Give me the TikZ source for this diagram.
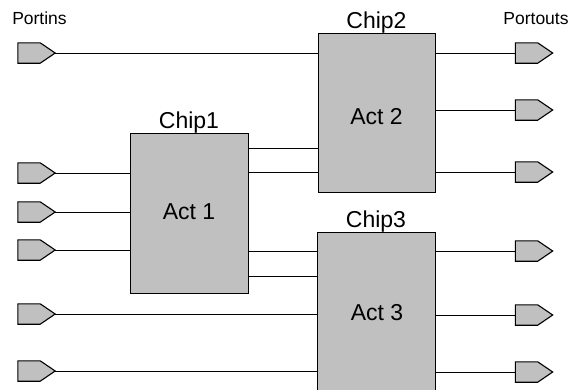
\documentclass[tikz,border=0pt]{standalone}
\usepackage{fontspec}
\setmainfont{Liberation Sans}
\definecolor{chipgray}{HTML}{C0C0C0}
\begin{document}
\begin{tikzpicture}[x=1pt,y=-1pt,
  wire/.style={draw=black,line width=1pt},
  portnode/.style={inner sep=0pt,minimum width=37pt,minimum height=20pt},
  portshape/.style={draw=black,fill=chipgray,line width=1.1pt,line join=miter},
  chip/.style={draw=black,fill=chipgray,line width=1pt,inner sep=0pt},
  chiplabel/.style={inner sep=0pt,anchor=base,font=\fontsize{23}{26}\selectfont},
  titlelabel/.style={inner sep=0pt,anchor=base,font=\fontsize{17.5}{20}\selectfont}]
\useasboundingbox (0,0) rectangle (574,389);
\clip (0,0) rectangle (574,389);
% chips
\node[chip,minimum width=118pt,minimum height=160pt] (chip1) at (189,213) {};
\node[chip,minimum width=117pt,minimum height=159pt] (chip2) at (376.5,112.5) {};
\node[chip,minimum width=118pt,minimum height=162pt] (chip3) at (376,313) {};
\node[chiplabel] (a1) at (189,219) {Act 1};
\node[chiplabel] (a2) at (376.5,124) {Act 2};
\node[chiplabel] (a3) at (377,320) {Act 3};
\node[chiplabel] (l1) at (189,128) {Chip1};
\node[chiplabel] (l2) at (376.5,28) {Chip2};
\node[chiplabel] (l3) at (376,227) {Chip3};
\node[titlelabel] (tin) at (39.5,24) {Portins};
\node[titlelabel] (tout) at (536,24) {Portouts};
% ports
\foreach \n/\x/\y in {pi1/36.5/53, pi2/36.5/173, pi3/36.5/212, pi4/36.5/250, pi5/36.5/314, pi6/36.5/371,
                      po1/534/53, po2/534/110, po3/534/172, po4/534/251, po5/534/315, po6/534/372}{
  \node[portnode] (\n) at (\x,\y) {};
  \draw[portshape] (\n.south west) -- (\n.north west) -- ([xshift=-15pt]\n.north east)
     -- (\n.east) -- ([xshift=-15pt]\n.south east) -- cycle;
}
% wires from inputs
\draw[wire] (pi1.east) -- (chip2.west |- pi1.east);
\draw[wire] (pi2.east) -- (chip1.west |- pi2.east);
\draw[wire] (pi3.east) -- (chip1.west |- pi3.east);
\draw[wire] (pi4.east) -- (chip1.west |- pi4.east);
\draw[wire] (pi5.east) -- (chip3.west |- pi5.east);
\draw[wire] (pi6.east) -- (chip3.west |- pi6.east);
% chip to chip
\draw[wire] (chip1.east |- 0,148) -- (chip2.west |- 0,148);
\draw[wire] (chip1.east |- 0,172) -- (chip2.west |- 0,172);
\draw[wire] (chip1.east |- 0,251) -- (chip3.west |- 0,251);
\draw[wire] (chip1.east |- 0,276) -- (chip3.west |- 0,276);
% outputs
\draw[wire] (chip2.east |- po1.west) -- (po1.west);
\draw[wire] (chip2.east |- po2.west) -- (po2.west);
\draw[wire] (chip2.east |- po3.west) -- (po3.west);
\draw[wire] (chip3.east |- po4.west) -- (po4.west);
\draw[wire] (chip3.east |- po5.west) -- (po5.west);
\draw[wire] (chip3.east |- po6.west) -- (po6.west);
\end{tikzpicture}
\end{document}
